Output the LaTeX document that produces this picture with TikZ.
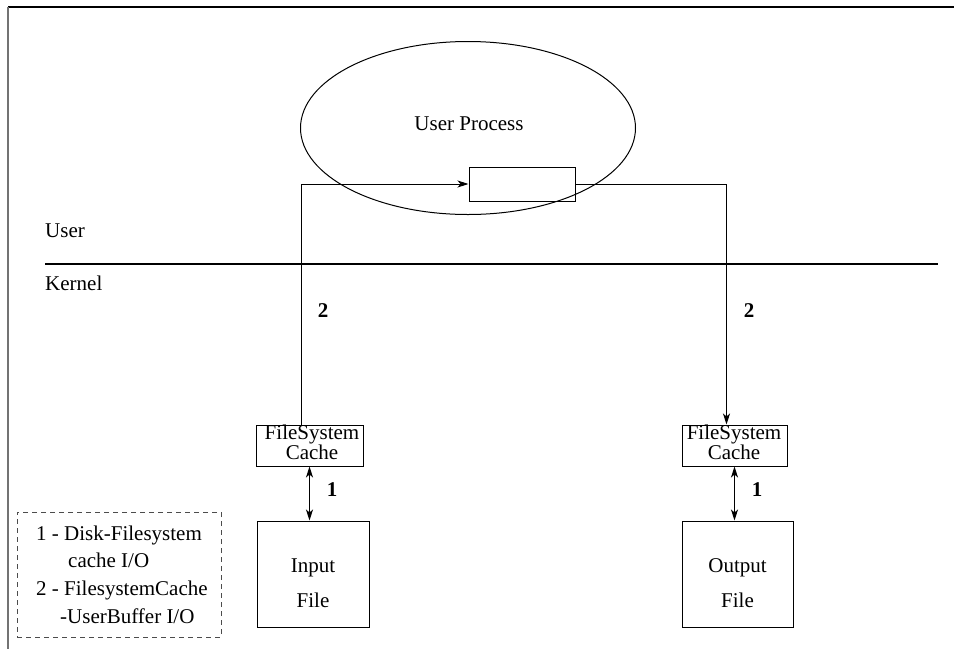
\documentclass[tikz,border=0pt]{standalone}
\usepackage{fontspec}
\setmainfont{Liberation Serif}
\usetikzlibrary{arrows.meta,shapes.geometric}

\tikzset{
  ln/.style={line width=1pt, draw=black},
  arr/.style={ln, -{Stealth[length=11pt,width=7pt,inset=3pt]}},
  darr/.style={ln, {Stealth[length=11pt,width=7pt,inset=3pt]}-{Stealth[length=11pt,width=7pt,inset=3pt]}},
  boxnode/.style={draw=black, line width=1pt, inner sep=0pt, rectangle},
  txt/.style={font=\fontsize{21}{21}\selectfont, inner sep=0pt},
  cachetxt/.style={font=\fontsize{21}{16}\selectfont, inner sep=0pt, align=center},
  numlbl/.style={font=\fontsize{21}{21}\selectfont\bfseries, inner sep=0pt, anchor=base},
}

\begin{document}
\begin{tikzpicture}[x=1pt, y=-1pt]
  \useasboundingbox (0,0) rectangle (954,649);

  % frame: top and left edges only
  \coordinate (ftl) at (8,7);
  \coordinate (ftr) at (954,7);
  \coordinate (fbl) at (8,649);
  \draw[line width=1.2pt] (ftl) -- (ftr);
  \draw[line width=2pt, draw=black!55] (ftl) -- (fbl);

  % user process
  \node[ellipse, draw=black, line width=1pt, minimum width=335pt, minimum height=173pt, inner sep=0pt] (proc) at (468,128) {};
  \node[txt] (proctxt) at (469,124) {User Process};
  \node[boxnode, minimum width=106pt, minimum height=34pt] (buf) at (522,184) {};

  % user / kernel boundary
  \coordinate (divl) at (45,264);
  \coordinate (divr) at (938,264);
  \draw[line width=1.2pt] (divl) -- (divr);
  \node[txt, anchor=base west] (usr) at (45,237) {User};
  \node[txt, anchor=base west] (krn) at (45,290) {Kernel};

  % filesystem caches
  \node[boxnode, minimum width=107pt, minimum height=41pt] (lcache) at (309.5,445.5) {};
  \node[cachetxt] (lcachetxt) at (312,442) {FileSystem\\Cache};
  \node[boxnode, minimum width=105pt, minimum height=41pt] (rcache) at (734.5,445.5) {};
  \node[cachetxt] (rcachetxt) at (734,442) {FileSystem\\Cache};

  % files
  \node[boxnode, minimum width=112pt, minimum height=106pt] (infile) at (313,574) {};
  \node[txt, align=center, font=\fontsize{21}{35}\selectfont] (intxt) at (313,583) {Input\\File};
  \node[boxnode, minimum width=111pt, minimum height=106pt] (outfile) at (737.5,574) {};
  \node[txt, align=center, font=\fontsize{21}{35}\selectfont] (outtxt) at (737.5,583) {Output\\File};

  % cache <-> user buffer
  \draw[arr] ([xshift=-8pt]lcache.north) |- (buf.west);
  \draw[arr] (buf.east) -| ([xshift=-8pt]rcache.north);
  \node[numlbl] (l2a) at (323,317) {2};
  \node[numlbl] (l2b) at (749,317) {2};

  % disk <-> cache
  \draw[darr] (lcache.south) -- (lcache.south |- infile.north);
  \draw[darr] (rcache.south) -- (rcache.south |- outfile.north);
  \node[numlbl] (l1a) at (332,496) {1};
  \node[numlbl] (l1b) at (757,496) {1};

  % legend
  \node[draw=black!70, dashed, dash pattern=on 5pt off 4pt, line width=1pt, inner sep=0pt,
        minimum width=204pt, minimum height=125pt] (legend) at (119,574.5) {};
  \node[txt, anchor=base west] (lg1) at (36,540) {1 - Disk-Filesystem};
  \node[txt, anchor=base west] (lg2) at (68,567) {cache I/O};
  \node[txt, anchor=base west] (lg3) at (36,595) {2 - FilesystemCache};
  \node[txt, anchor=base west] (lg4) at (60,623) {-UserBuffer I/O};
\end{tikzpicture}
\end{document}
